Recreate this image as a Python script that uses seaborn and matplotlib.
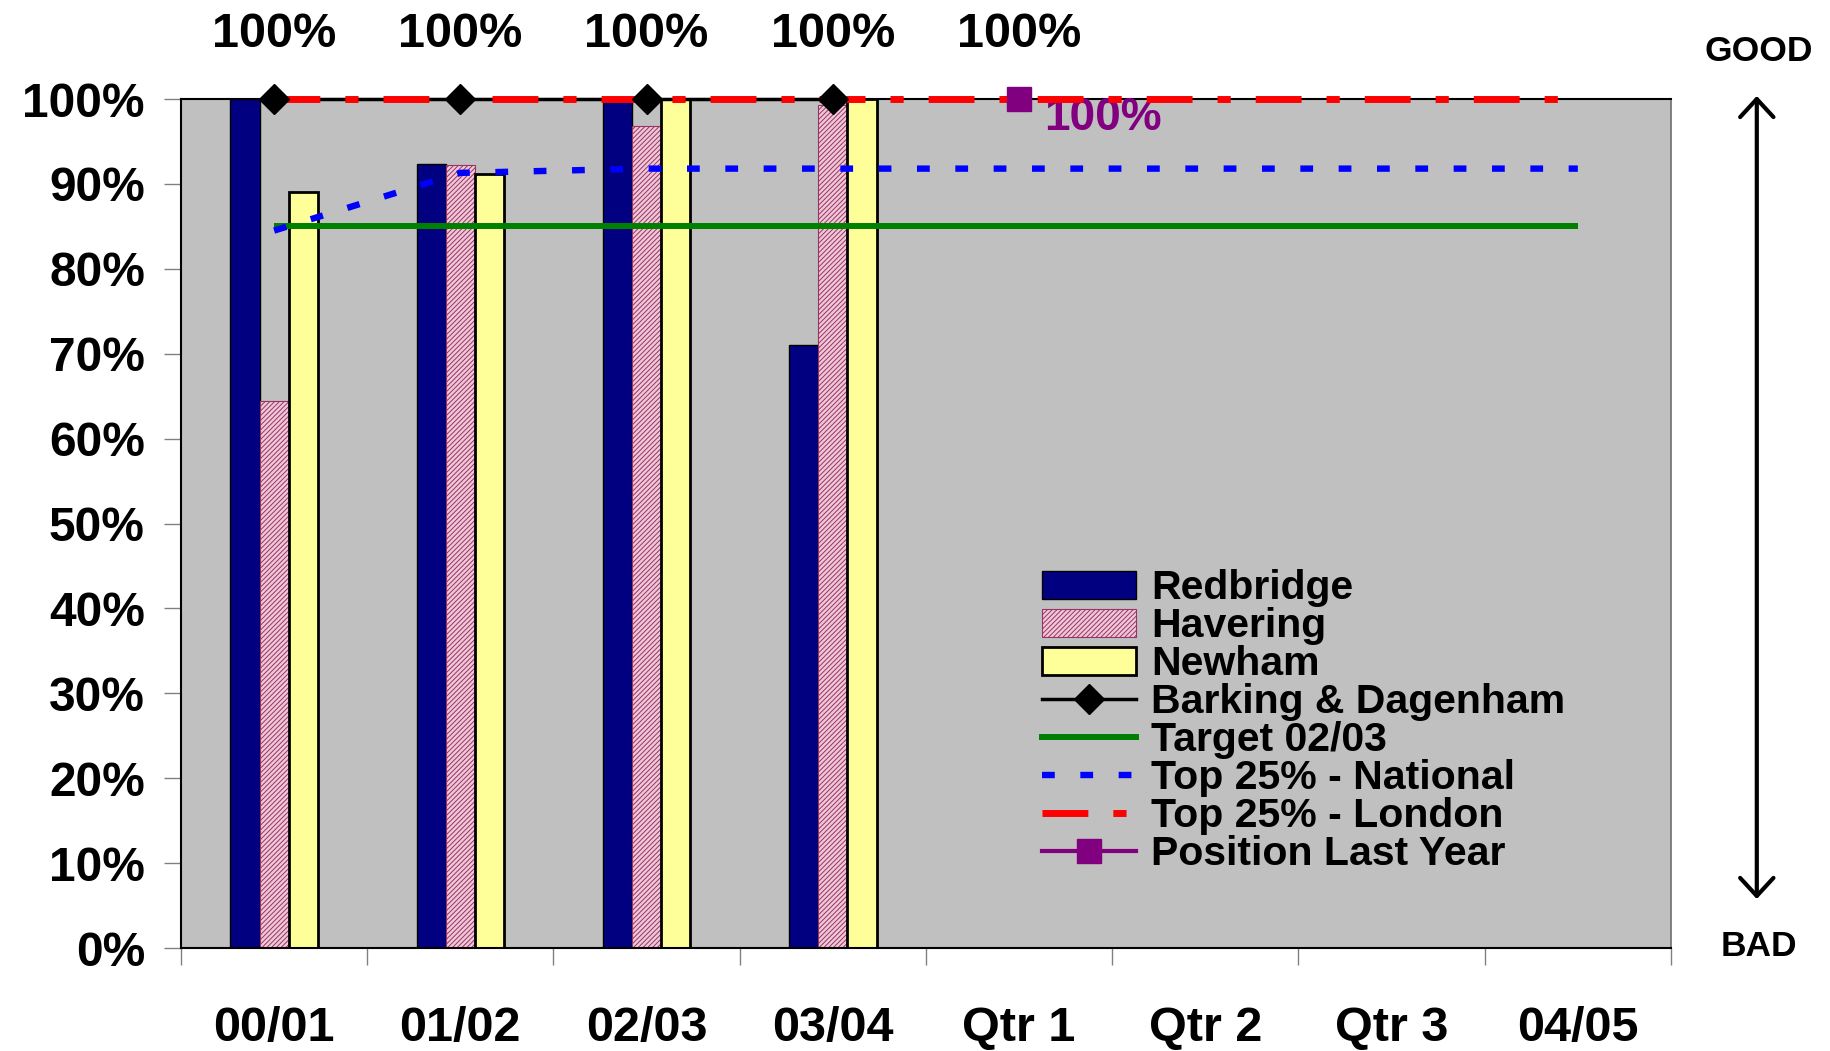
import numpy as np
import pandas as pd
import matplotlib
matplotlib.use("Agg")
import matplotlib.pyplot as plt
import matplotlib.transforms as mtransforms
import seaborn as sns
from matplotlib.patches import Patch, FancyArrowPatch, ArrowStyle
from matplotlib.lines import Line2D
from matplotlib.ticker import FixedLocator, FuncFormatter

# data
categories = ["00/01", "01/02", "02/03", "03/04", "Qtr 1", "Qtr 2", "Qtr 3", "04/05"]
bar_years = ["00/01", "01/02", "02/03", "03/04"]
boroughs = ["Redbridge", "Havering", "Newham"]
redbridge = [100.0, 92.3, 100.0, 71.0]
havering = [64.4, 92.2, 96.8, 99.3]
newham = [89.1, 91.2, 100.0, 100.0]
barking = [100.0, 100.0, 100.0, 100.0]
target = [85, 85, 85, 85, 85, 85, 85, 85]
national = [84.5, 91.3, 91.8, 91.8, 91.8, 91.8, 91.8, 91.8]
london = [100, 100, 100, 100, 100, 100, 100, 100]
last_year_cat = ["Qtr 1"]
last_year = [100.0]
top_label_cats = ["00/01", "01/02", "02/03", "03/04", "Qtr 1"]
top_label_vals = [100, 100, 100, 100, 100]

bar_colors = {"Redbridge": "#000080", "Havering": "#EFC8D7", "Newham": "#FFFF99"}
bar_edges = {"Redbridge": "black", "Havering": "#993366", "Newham": "black"}
bar_lw = {"Redbridge": 1.0, "Havering": 0.8, "Newham": 2.0}
bar_hatch = {"Redbridge": None, "Havering": "///////", "Newham": None}

plt.rcParams['font.family'] = ['Liberation Sans', 'DejaVu Sans']
plt.rcParams['font.weight'] = 'bold'
plt.rcParams['hatch.linewidth'] = 0.7

df = pd.DataFrame({
    'Year': bar_years * 3,
    'Borough': ['Redbridge'] * 4 + ['Havering'] * 4 + ['Newham'] * 4,
    'Score': redbridge + havering + newham,
})

fig = plt.figure(figsize=(18.3, 10.51), dpi=100)
ax = fig.add_axes([0.0989, 0.098, 0.8142, 0.8078])
ax.set_facecolor("#C0C0C0")

sns.barplot(data=df, x='Year', y='Score', hue='Borough', order=categories,
            hue_order=boroughs, palette=bar_colors, width=0.47, errorbar=None,
            saturation=1, legend=False, ax=ax, zorder=2)

for cont, name in zip(ax.containers, boroughs):
    for bar in cont:
        bar.set_edgecolor(bar_edges[name])
        bar.set_linewidth(bar_lw[name])
        if bar_hatch[name]:
            bar.set_hatch(bar_hatch[name])

pos = {c: i for i, c in enumerate(categories)}
x_all = np.arange(len(categories))
x_bark = [pos[c] for c in bar_years]

ax.plot(x_all, target, color='#008000', lw=4.3, zorder=4, solid_capstyle='butt')
ax.plot(x_all, national, color='#0000FF', lw=4.6, dashes=(2, 4),
        dash_capstyle='butt', zorder=4)
ax.plot(x_bark, barking, color='black', lw=2.5, zorder=3, clip_on=False)
ax.plot(x_all, london, color='#FF0000', lw=5, dashes=(6.6, 3.6, 1.9, 3.6),
        dash_capstyle='butt', zorder=4, clip_on=False)
ax.plot(x_bark, barking, color='black', lw=0, marker='D', ms=15, zorder=5, clip_on=False)
ax.plot([pos[c] for c in last_year_cat], last_year, color='#800080', marker='s',
        ms=17, lw=3, zorder=5, clip_on=False)
ax.annotate(f"{last_year[0]:.0f}%", xy=(pos[last_year_cat[0]], last_year[0]),
            xytext=(18, -14), textcoords='offset points', ha='left', va='center',
            color='#800080', fontsize=33, fontweight='bold')

trans = mtransforms.blended_transform_factory(ax.transData, ax.transAxes)
for c, v in zip(top_label_cats, top_label_vals):
    ax.text(pos[c], 1.076, f"{v}%", transform=trans, ha='center', va='center',
            fontsize=35, fontweight='bold')

ax.set_xlim(-0.5, len(categories) - 0.5)
ax.set_ylim(0, 100)
ax.set_xlabel('')
ax.set_ylabel('')
ax.set_yticks(range(0, 101, 10))
ax.yaxis.set_major_formatter(FuncFormatter(lambda v, p: f"{v:.0f}%"))
ax.set_xticks(x_all)
ax.set_xticklabels(categories)
ax.xaxis.set_minor_locator(FixedLocator(np.arange(-0.5, len(categories), 1)))
ax.tick_params(axis='y', left=True, length=12, width=1, color='#808080',
               pad=14, labelsize=34.5)
ax.tick_params(axis='x', which='major', bottom=True, length=0, pad=42, labelsize=35)
ax.tick_params(axis='x', which='minor', bottom=True, length=12, width=1, color='#808080')
for s in ['left', 'bottom', 'top']:
    ax.spines[s].set_color('black')
    ax.spines[s].set_linewidth(1.5)
ax.spines['right'].set_color('#707070')
ax.spines['right'].set_linewidth(1.2)

handles = [
    Patch(facecolor=bar_colors['Redbridge'], edgecolor='black', lw=1.0),
    Patch(facecolor=bar_colors['Havering'], edgecolor='#993366', lw=0.8, hatch='///////'),
    Patch(facecolor=bar_colors['Newham'], edgecolor='black', lw=2.0),
    Line2D([], [], color='black', lw=2.5, marker='D', ms=15),
    Line2D([], [], color='#008000', lw=4.3),
    Line2D([], [], color='#0000FF', lw=4.6, dashes=(2, 4), dash_capstyle='butt'),
    Line2D([], [], color='#FF0000', lw=5, dashes=(6.6, 3.6, 1.9, 3.6), dash_capstyle='butt'),
    Line2D([], [], color='#800080', lw=3, marker='s', ms=17),
]
labels = ["Redbridge", "Havering", "Newham", "Barking & Dagenham", "Target 02/03",
          "Top 25% - National", "Top 25% - London", "Position Last Year"]
ax.legend(handles, labels, loc='upper left', bbox_to_anchor=(0.578, 0.446),
          frameon=False, fontsize=29.5, handlelength=2.3, handletextpad=0.36,
          labelspacing=0.0, borderpad=0, borderaxespad=0)

# GOOD / BAD arrow on the right
arrow = FancyArrowPatch((0.960, 0.1446), (0.960, 0.9087), transform=fig.transFigure,
                        arrowstyle=ArrowStyle('<->', head_length=0.65, head_width=0.6),
                        mutation_scale=20, lw=3, color='black', shrinkA=0, shrinkB=0)
fig.add_artist(arrow)
fig.text(0.961, 0.951, "GOOD", ha='center', va='center', fontsize=25.5, fontweight='bold')
fig.text(0.961, 0.099, "BAD", ha='center', va='center', fontsize=25.5, fontweight='bold')

fig.savefig('out.png', dpi=100)
plt.close()
